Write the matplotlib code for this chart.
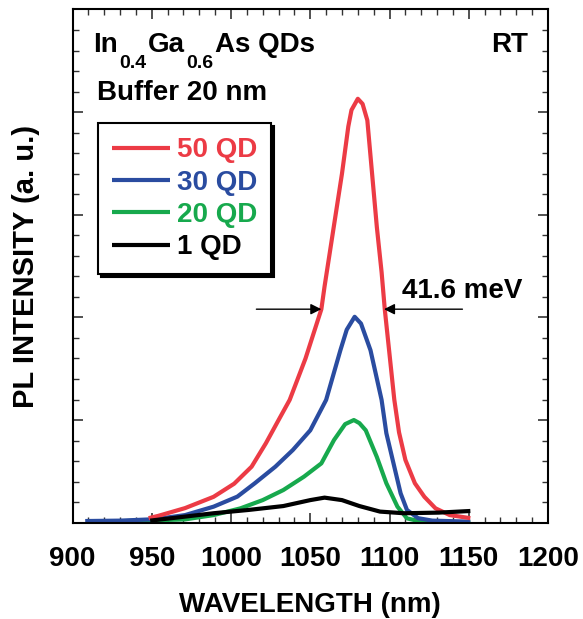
import matplotlib
matplotlib.use("Agg")
import matplotlib.pyplot as plt
from matplotlib.ticker import MultipleLocator

plt.rcParams["font.family"] = ["Liberation Sans", "DejaVu Sans"]
plt.rcParams["font.weight"] = "bold"

# 50 QD
wl_50 = [948, 954, 971, 989, 1002, 1013, 1022, 1030, 1037, 1047, 1057, 1059, 1062, 1064, 1068,
         1070, 1074, 1076, 1080, 1083, 1086, 1089, 1092, 1095, 1097, 1103, 1106, 1110, 1116,
         1122, 1129, 1138, 1151]
pl_50 = [0.22, 0.33, 0.71, 1.26, 1.90, 2.73, 3.87, 5.0, 5.98, 8.0, 10.4, 11.5, 13.0, 14.0, 16.0,
         17.0, 19.3, 20.1, 20.65, 20.4, 19.6, 17.0, 14.4, 12.2, 10.4, 6.0, 4.4, 3.06, 1.92,
         1.26, 0.70, 0.37, 0.22]

# 30 QD
wl_30 = [908, 930, 952, 971, 989, 1004, 1015, 1028, 1039, 1050, 1060, 1069, 1073, 1078, 1082,
         1088, 1095, 1098, 1103, 1107, 1111, 1118, 1127, 1151]
pl_30 = [0.08, 0.1, 0.17, 0.37, 0.78, 1.27, 1.92, 2.73, 3.54, 4.5, 5.98, 8.4, 9.4, 10.03, 9.7,
         8.4, 5.98, 4.36, 2.73, 1.43, 0.62, 0.22, 0.1, 0.05]

# 20 QD
wl_20 = [918, 945, 971, 989, 1006, 1020, 1033, 1046, 1057, 1065, 1072, 1077.5, 1081, 1085,
         1092, 1098, 1105, 1111, 1120, 1151]
pl_20 = [0.05, 0.1, 0.16, 0.37, 0.70, 1.1, 1.59, 2.24, 2.89, 4.03, 4.8, 5.0, 4.85, 4.5,
         3.2, 1.92, 0.78, 0.21, 0.05, 0.0]

# 1 QD
wl_1 = [949, 967, 989, 1011, 1033, 1050, 1059, 1070, 1081, 1094, 1109, 1131, 1151]
pl_1 = [0.1, 0.26, 0.46, 0.62, 0.81, 1.1, 1.22, 1.1, 0.81, 0.54, 0.46, 0.49, 0.57]

labels = ["50 QD", "30 QD", "20 QD", "1 QD"]
colors = ["#EC3B45", "#2A4CA0", "#17A94D", "#000000"]

fwhm_left = (1016, 1057)
fwhm_right = (1146, 1096.5)
half_max = 10.4

fig = plt.figure(figsize=(5.83, 6.19), dpi=100)
ax = fig.add_axes([0.1244, 0.1556, 0.8156, 0.8291])

series = [(wl_50, pl_50), (wl_30, pl_30), (wl_20, pl_20), (wl_1, pl_1)]
handles = [None] * 4
for i in [2, 1, 0, 3]:
    x, y = series[i]
    handles[i], = ax.plot(x, y, color=colors[i], lw=3, label=labels[i],
                          solid_joinstyle="round", solid_capstyle="butt")

ax.set_xlim(900, 1200)
ax.set_ylim(0, 25)
ax.xaxis.set_major_locator(MultipleLocator(50))
ax.xaxis.set_minor_locator(MultipleLocator(10))
ax.yaxis.set_major_locator(MultipleLocator(5))
ax.yaxis.set_minor_locator(MultipleLocator(1))
ax.tick_params(which="both", direction="in", top=True, right=True, color="#333333")
ax.tick_params(which="major", length=7.5, width=1.2, pad=17, labelsize=20)
ax.tick_params(which="minor", length=4, width=1.0)
ax.tick_params(axis="y", labelleft=False)
for s in ax.spines.values():
    s.set_linewidth(1.5)

ax.set_xlabel("WAVELENGTH (nm)", fontsize=20, fontweight="bold")
ax.set_ylabel("PL INTENSITY (a. u.)", fontsize=21, fontweight="bold")
ax.xaxis.set_label_coords(0.5, -0.136)
ax.yaxis.set_label_coords(-0.068, 0.5)

leg = ax.legend(handles=handles, loc="upper left", bbox_to_anchor=(0.053, 0.778),
                borderaxespad=0, fontsize=20, handlelength=2.1, handletextpad=0.25,
                labelspacing=0.23, borderpad=0.5, fancybox=False, framealpha=1,
                edgecolor="black", labelcolor="linecolor",
                shadow={"facecolor": "black", "edgecolor": "black", "alpha": 1})
leg.get_frame().set_linewidth(1.5)
for t in leg.get_texts():
    t.set_fontweight("bold")

# composition label with subscripts
t0 = ax.text(0.043, 0.9055, "In", transform=ax.transAxes, fontsize=20,
             fontweight="bold", va="bottom")
prev = t0
for piece, sub in [("0.4", True), ("Ga", False), ("0.6", True), ("As QDs", False)]:
    off = -10 if sub else 0
    size = 14 if sub else 20
    prev = ax.annotate(piece, xy=(1, 0), xycoords=(prev, t0), xytext=(1, off),
                       textcoords="offset points", fontsize=size, fontweight="bold",
                       va="bottom", ha="left")

ax.text(0.0515, 0.824, "Buffer 20 nm", transform=ax.transAxes, fontsize=20,
        fontweight="bold", va="baseline")
ax.text(0.958, 0.917, "RT", transform=ax.transAxes, fontsize=20,
        fontweight="bold", va="baseline", ha="right")
ax.text(0.692, 0.438, "41.6 meV", transform=ax.transAxes, fontsize=20,
        fontweight="bold", va="baseline")

arrow = dict(arrowstyle="-|>", color="black", lw=1, mutation_scale=16,
             shrinkA=0, shrinkB=0)
ax.annotate("", xy=(fwhm_left[1], half_max), xytext=(fwhm_left[0], half_max),
            arrowprops=arrow)
ax.annotate("", xy=(fwhm_right[1], half_max), xytext=(fwhm_right[0], half_max),
            arrowprops=arrow)

fig.savefig("out.png", dpi=100)
